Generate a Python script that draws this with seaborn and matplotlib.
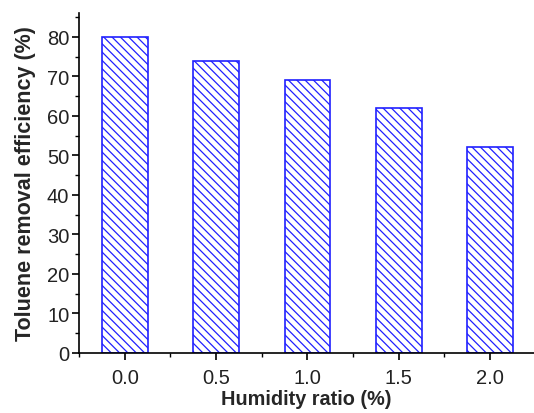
import numpy as np
import pandas as pd
import matplotlib
matplotlib.use("Agg")
import matplotlib.pyplot as plt
import seaborn as sns
from matplotlib.ticker import MultipleLocator

humidity = [0.0, 0.5, 1.0, 1.5, 2.0]
efficiency = [80, 74, 69, 62, 52]

df = pd.DataFrame({"humidity": humidity, "efficiency": efficiency})

sns.set_theme(style="ticks")
plt.rcParams["font.family"] = ["Liberation Sans", "DejaVu Sans"]
plt.rcParams["hatch.linewidth"] = 0.9
plt.rcParams["hatch.color"] = "#2020ff"

fig, ax = plt.subplots(figsize=(5.34, 4.14), dpi=100)
sns.barplot(data=df, x="humidity", y="efficiency", native_scale=True,
            width=0.5, fill=False, color="#2020ff", linewidth=1.2, ax=ax,
            errorbar=None)
for p in ax.patches:
    p.set_hatch("\\\\\\\\")
    p.set_edgecolor("#2020ff")

ax.set_xlim(-0.25, 2.24)
ax.set_ylim(0, 86)
ax.xaxis.set_major_locator(MultipleLocator(0.5))
ax.xaxis.set_minor_locator(MultipleLocator(0.25))
ax.yaxis.set_major_locator(MultipleLocator(10))
ax.yaxis.set_minor_locator(MultipleLocator(5))
ax.xaxis.set_major_formatter(matplotlib.ticker.FormatStrFormatter("%.1f"))
ax.tick_params(which="major", direction="out", length=5, width=1.2,
               labelsize=14.5, color="black", labelcolor="#222222")
ax.tick_params(which="minor", direction="out", length=3, width=1.0, color="black")
ax.tick_params(axis="y", pad=2)
ax.tick_params(axis="x", pad=6)
for s in ["top", "right"]:
    ax.spines[s].set_visible(False)
for s in ["left", "bottom"]:
    ax.spines[s].set_color("black")
    ax.spines[s].set_linewidth(1.2)

ax.set_xlabel("Humidity ratio (%)", fontsize=14.3, fontweight="bold", labelpad=1)
ax.set_ylabel("Toluene removal efficiency (%)", fontsize=15.5, fontweight="bold", labelpad=8)

fig.subplots_adjust(left=0.148, right=1.0, bottom=0.145, top=0.966)
fig.savefig("out.png", dpi=100)
